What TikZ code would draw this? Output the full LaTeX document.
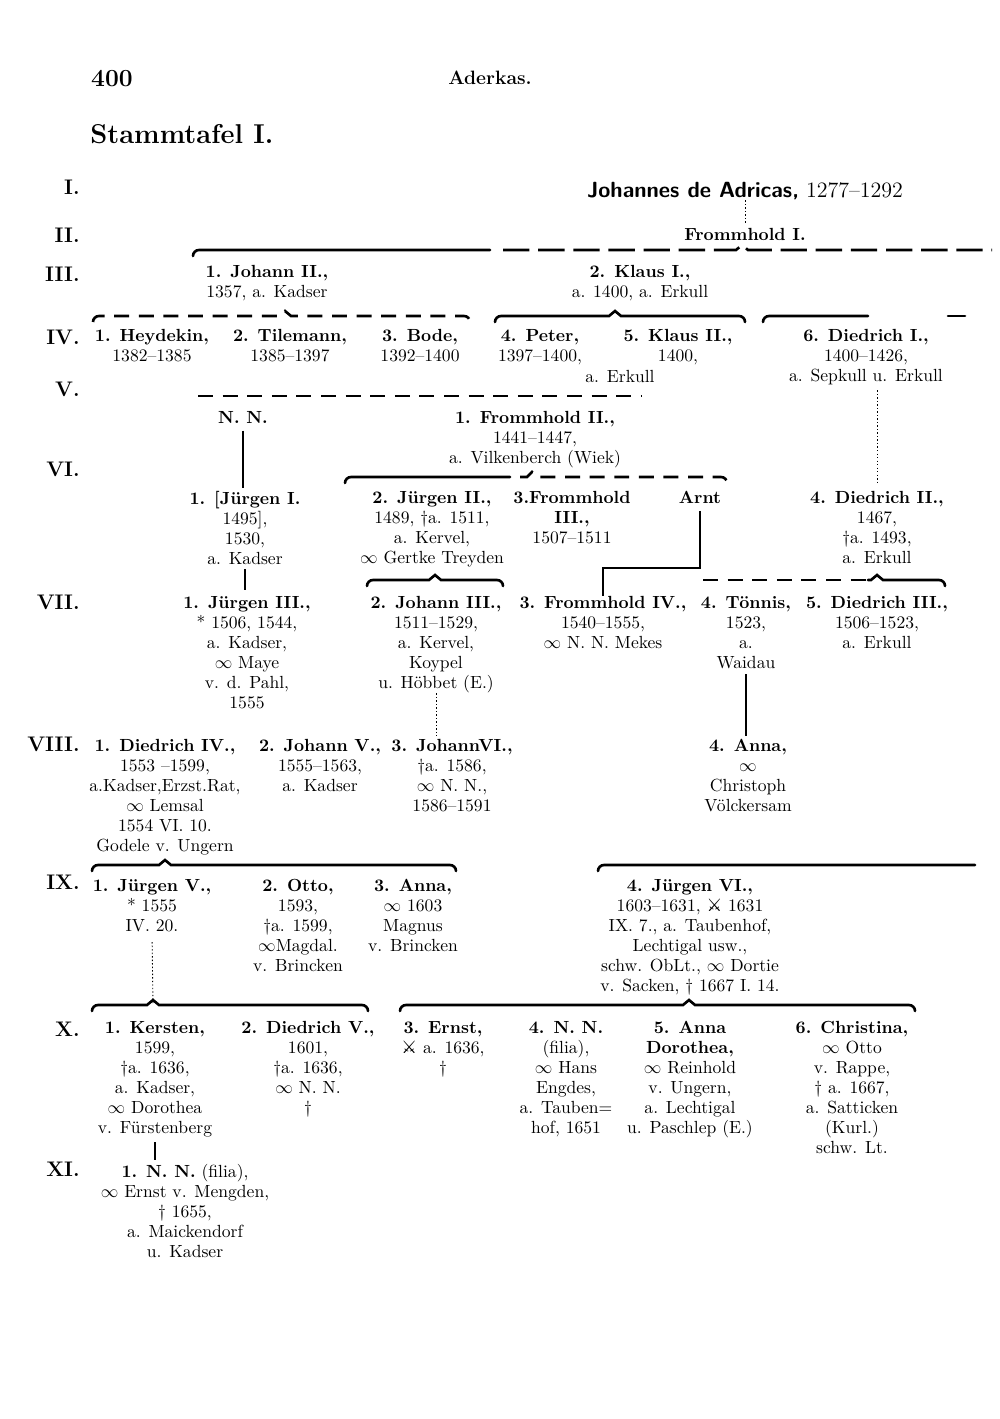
\documentclass[tikz,border=0pt]{standalone}
\usepackage{fontspec}
\usepackage{tikz}
\usetikzlibrary{positioning,calc}
\newfontfamily\symbfont{DejaVu Sans}
\newcommand{\ehe}{$\infty$}
\newcommand{\gefallen}{{\symbfont ⚔}}

\begin{document}
\begin{tikzpicture}[
  x=0.2mm, y=-0.2mm,
  font=\fontsize{10}{11.4}\selectfont,
  pers/.style={align=center, inner sep=0pt, anchor=north, yshift=6.9pt},
  gen/.style={anchor=base east, inner sep=0pt, font=\fontsize{12}{14}\selectfont\bfseries},
  klammer/.style={line width=1.5pt, line cap=round},
  strich/.style={line width=1.5pt, dash pattern=on 15pt off 5pt},
  strichkurz/.style={line width=1.5pt, dash pattern=on 8.5pt off 5.5pt},
  linie/.style={line width=1.1pt},
  punkte/.style={line width=0.5pt, dash pattern=on 0.8pt off 1.2pt}
]
\fill[white] (0,0) rectangle (1000,1419);
\useasboundingbox (0,0) rectangle (1000,1419);

% ---- page head ----
\node[anchor=base, inner sep=0pt, font=\fontsize{14}{16}\selectfont\bfseries] (seite) at (112,86) {400};
\node[anchor=base, inner sep=0pt, font=\fontsize{11}{13}\selectfont\bfseries] (kopf) at (490,84) {Aderkas.};
\node[anchor=base west, inner sep=0pt, font=\fontsize{15.5}{18}\selectfont\bfseries] (titel) at (90,143) {Stammtafel I.};

% ---- generations ----
\foreach \g/\y [count=\i] in {I/194, II/242, III/281, IV/344, V/396, VI/476,
                              VII/609, VIII/751, IX/889, X/1036, XI/1176}
  \node[gen] (gen\i) at (80,\y) {\g.};

% ---- I / II ----
\node[pers, font=\fontsize{12.5}{14}\selectfont, yshift=1pt] (adricas) at (745,196)
  {\textsf{\bfseries Johannes de Adricas,} 1277--1292};
\node[pers] (fromm1) at (745,240) {\textbf{Frommhold I.}};
\draw[punkte, shorten >=1mm] (fromm1.north |- adricas.south) -- (fromm1.north);

% ---- III ----
\coordinate (kl3) at (742,250);
\draw[klammer] (193,256) to[out=90,in=180] (199,250) -- (490,250);
\draw[strich] (503,250) -- (736,250) -- ($(kl3)+(0,-5)$) -- (748,250) -- (992,250);
\node[pers] (johann2) at (267,277) {\textbf{1. Johann II.,}\\1357, a. Kadser};
\node[pers] (klaus1) at (640,277) {\textbf{2. Klaus I.,}\\a. 1400, a. Erkull};

% ---- IV ----
\draw[strichkurz] (93,322) to[out=90,in=180] (99,316) -- (279,316) -- (285,311)
  -- (291,316) -- (464,316) to[out=0,in=90] (470,322);
\draw[klammer] (495,322) to[out=90,in=180] (501,316) -- (609,316) -- (615,311)
  -- (621,316) -- (739,316) to[out=0,in=90] (745,322);
\draw[klammer] (763,322) to[out=90,in=180] (769,316) -- (868,316);
\draw[klammer] (948,316) -- (965,316);
\node[pers] (heydekin) at (152,341) {\textbf{1. Heydekin,}\\1382--1385};
\node[pers] (tilemann) at (290,341) {\textbf{2. Tilemann,}\\1385--1397};
\node[pers] (bode) at (420,341) {\textbf{3. Bode,}\\1392--1400};
\node[pers] (peter) at (540,341) {\textbf{4. Peter,}\\1397--1400,};
\node[pers] (klaus2) at (678,341) {\textbf{5. Klaus II.,}\\1400,};
\node[pers] (erkull) at (620,382) {a. Erkull};
\node[pers] (diedrich1) at (866,341) {\textbf{6. Diedrich I.,}\\1400--1426,\\a. Sepkull u. Erkull};

% ---- V ----
\draw[strichkurz] (198,396) -- (642,396);
\node[pers] (nn5) at (243,423) {\textbf{N. N.}};
\node[pers] (fromm2) at (535,423) {\textbf{1. Frommhold II.,}\\1441--1447,\\a. Vilkenberch (Wiek)};

% ---- VI ----
\draw[klammer] (345,483) to[out=90,in=180] (351,477) -- (510,477);
\draw[strichkurz] (520,477) -- (527,477) -- (532,472) -- (537,477) -- (721,477)
  to[out=0,in=90] (727,483);
\node[pers] (juergen1) at (245,503) {\textbf{1. [Jürgen I.}\\1495],\\1530,\\a. Kadser};
\node[pers] (juergen2) at (432,503) {\textbf{2. Jürgen II.,}\\1489, \dag a. 1511,\\a. Kervel,\\\ehe\ Gertke Treyden};
\node[pers] (fromm3) at (572,503) {\textbf{3.Frommhold}\\\textbf{III.,}\\1507--1511};
\node[pers] (arnt) at (700,503) {\textbf{Arnt}};
\node[pers] (diedrich2) at (877,503) {\textbf{4. Diedrich II.,}\\1467,\\\dag a. 1493,\\a. Erkull};
\draw[linie, shorten <=1.4mm, shorten >=0.6mm] (nn5.south) -- (nn5.south |- juergen1.north);
\draw[punkte, shorten <=1mm, shorten >=1.5mm] (diedrich2.north |- diedrich1.south) -- (diedrich2.north);

% ---- VII ----
\draw[klammer] (367,586) to[out=90,in=180] (373,580) -- (429,580) -- (435,575)
  -- (441,580) -- (497,580) to[out=0,in=90] (503,586);
\draw[strichkurz] (703,580) -- (868,580);
\draw[klammer] (868,580) -- (871,580) -- (877,575) -- (883,580) -- (939,580)
  to[out=0,in=90] (945,586);
\node[pers] (juergen3) at (247,608) {\textbf{1. Jürgen III.,}\\* 1506, 1544,\\a. Kadser,\\\ehe\ Maye\\v. d. Pahl,\\1555};
\node[pers] (johann3) at (436,608) {\textbf{2. Johann III.,}\\1511--1529,\\a. Kervel,\\Koypel\\u. Höbbet (E.)};
\node[pers] (fromm4) at (603,608) {\textbf{3. Frommhold IV.,}\\1540--1555,\\\ehe\ N. N. Mekes};
\node[pers] (toennis) at (746,608) {\textbf{4. Tönnis,}\\1523,\\a.\\Waidau};
\node[pers] (diedrich3) at (877,608) {\textbf{5. Diedrich III.,}\\1506--1523,\\a. Erkull};
\coordinate (knick) at (603,568);
\draw[linie, shorten <=1.4mm] (arnt.south) |- (knick) -- (fromm4.north);
\draw[linie, shorten <=0.8mm, shorten >=1.2mm] (juergen1.south) -- (juergen1.south |- juergen3.north);

% ---- VIII ----
\node[pers] (diedrich4) at (165,751) {\textbf{1. Diedrich IV.,}\\1553 --1599,\\a.Kadser,Erzst.Rat,\\\ehe\ Lemsal\\1554 VI. 10.\\Godele v. Ungern};
\node[pers] (johann5) at (320,751) {\textbf{2. Johann V.,}\\1555--1563,\\a. Kadser};
\node[pers] (johann6) at (452,751) {\textbf{3. JohannVI.,}\\\dag a. 1586,\\\ehe\ N. N.,\\1586--1591};
\node[pers] (anna4) at (748,751) {\textbf{4. Anna,}\\\ehe\\Christoph\\Völckersam};
\draw[punkte, shorten >=0.6mm] (johann3.south) -- (johann3.south |- johann6.north);
\draw[linie, shorten <=1mm, shorten >=0.6mm] (toennis.south) -- (toennis.south |- anna4.north);

% ---- IX ----
\draw[klammer] (92,871) to[out=90,in=180] (98,865) -- (159,865) -- (165,860)
  -- (171,865) -- (450,865) to[out=0,in=90] (456,871);
\draw[klammer] (598,871) to[out=90,in=180] (604,865) -- (975,865);
\node[pers] (juergen5) at (152,891) {\textbf{1. Jürgen V.,}\\* 1555\\IV. 20.};
\node[pers] (otto) at (298,891) {\textbf{2. Otto,}\\1593,\\\dag a. 1599,\\\ehe Magdal.\\v. Brincken};
\node[pers] (anna3) at (413,891) {\textbf{3. Anna,}\\\ehe\ 1603\\Magnus\\v. Brincken};
\node[pers] (juergen6) at (690,891) {\textbf{4. Jürgen VI.,}\\1603--1631, \gefallen\ 1631\\IX. 7., a. Taubenhof,\\Lechtigal usw.,\\schw. ObLt., \ehe\ Dortie\\v. Sacken, \dag\ 1667 I. 14.};

% ---- X ----
\coordinate (kl10) at (153,1005);
\draw[klammer] (92,1011) to[out=90,in=180] (98,1005) -- (147,1005) -- (153,1000)
  -- (159,1005) -- (362,1005) to[out=0,in=90] (368,1011);
\draw[klammer] (400,1011) to[out=90,in=180] (406,1005) -- (683,1005) -- (689,1000)
  -- (695,1005) -- (909,1005) to[out=0,in=90] (915,1011);
\draw[punkte, shorten <=2mm] (juergen5.south) -- (kl10);
\node[pers] (kersten) at (155,1033) {\textbf{1. Kersten,}\\1599,\\\dag a. 1636,\\a. Kadser,\\\ehe\ Dorothea\\v. Fürstenberg};
\node[pers] (diedrich5) at (308,1033) {\textbf{2. Diedrich V.,}\\1601,\\\dag a. 1636,\\\ehe\ N. N.\\\dag};
\node[pers] (ernst) at (443,1033) {\textbf{3. Ernst,}\\\gefallen\ a. 1636,\\\dag};
\node[pers] (nn4) at (566,1033) {\textbf{4. N. N.}\\(filia),\\\ehe\ Hans\\Engdes,\\a. Tauben=\\hof, 1651};
\node[pers] (anna5) at (690,1033) {\textbf{5. Anna}\\\textbf{Dorothea,}\\\ehe\ Reinhold\\v. Ungern,\\a. Lechtigal\\u. Paschlep (E.)};
\node[pers] (christina) at (852,1033) {\textbf{6. Christina,}\\\ehe\ Otto\\v. Rappe,\\\dag\ a. 1667,\\a. Satticken\\(Kurl.)\\schw. Lt.};

% ---- XI ----
\node[pers] (nnfilia) at (185,1176) {\textbf{1. N. N.} (filia),\\\ehe\ Ernst v. Mengden,\\\dag\ 1655,\\a. Maickendorf\\u. Kadser};
\draw[linie, shorten <=1mm, shorten >=0.8mm] (kersten.south) -- (kersten.south |- nnfilia.north);
\end{tikzpicture}
\end{document}
